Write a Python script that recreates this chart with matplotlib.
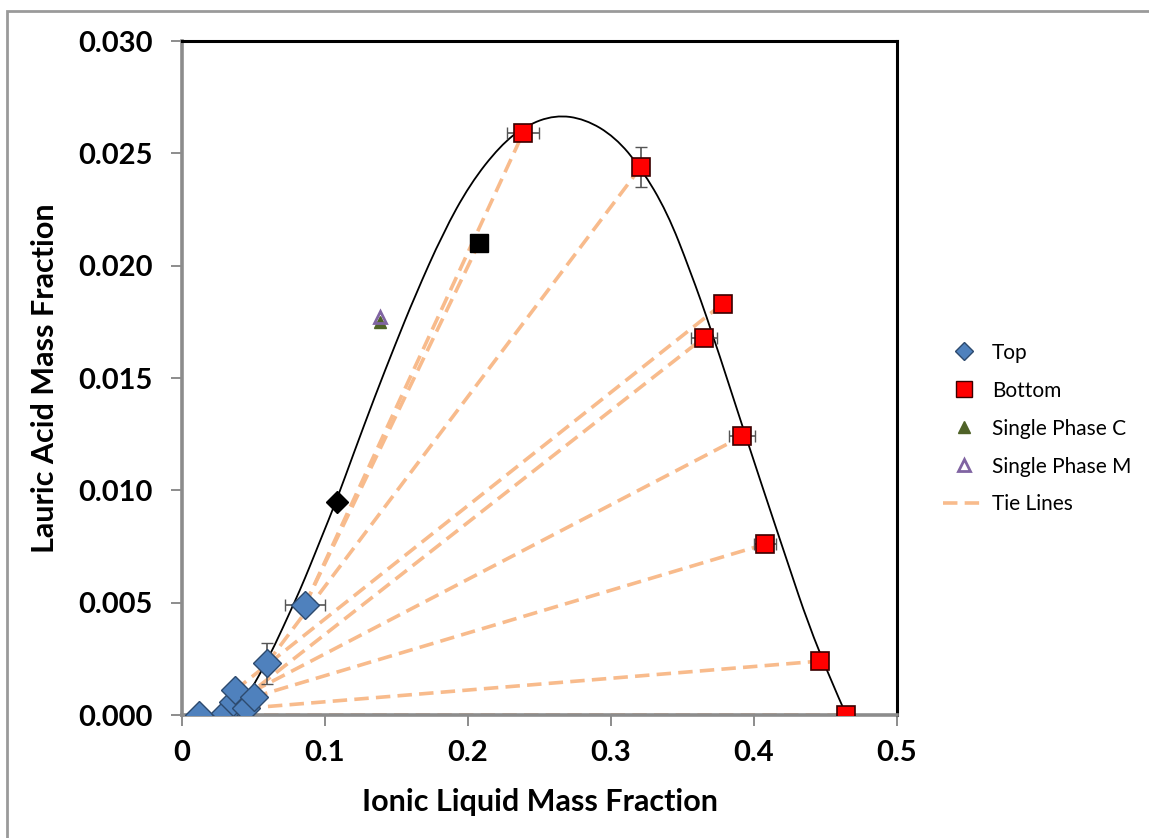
import numpy as np
import matplotlib
matplotlib.use("Agg")
import matplotlib.pyplot as plt
from matplotlib.lines import Line2D
from matplotlib.patches import Rectangle, PathPatch
from matplotlib.path import Path

plt.rcParams['font.family'] = ['Lato', 'DejaVu Sans']

# === DATA ===
# top phase (blue diamonds)
top_x = [0.012, 0.030, 0.036, 0.037, 0.045, 0.050, 0.0594, 0.086]
top_y = [0.0000, 0.0001, 0.0006, 0.0011, 0.0003, 0.0008, 0.0023, 0.0049]
top_xerr = [0, 0, 0, 0, 0, 0, 0, 0.0137]
top_yerr = [0, 0, 0, 0, 0, 0, 0.0009, 0]

# bottom phase (red squares)
bot_x = [0.4643, 0.4462, 0.4077, 0.3916, 0.3650, 0.3780, 0.3210, 0.2385]
bot_y = [0.0000, 0.0024, 0.0076, 0.0124, 0.0168, 0.0183, 0.0244, 0.0259]
bot_xerr = [0, 0, 0.0077, 0.009, 0.009, 0, 0, 0.011]
bot_yerr = [0, 0, 0, 0, 0, 0, 0.0009, 0.0002]

# tie lines: index of top point for each bottom point
tie_top = [0, 4, 5, 2, 1, 3, 6, 7]

# overall mixture / cloud point (black)
mix_x = [0.2077]
mix_y = [0.0210]
cloud_x = [0.1084]
cloud_y = [0.00948]

# single phase points
spc_x = [0.1385]
spc_y = [0.0175]
spm_x = [0.1385]
spm_y = [0.0177]

# binodal curve
bin_x = [0.0392, 0.0476, 0.0545, 0.0650, 0.0755, 0.0825, 0.0895, 0.0965, 0.1084,
         0.1196, 0.1350, 0.1490, 0.1629, 0.1825, 0.2014, 0.2224, 0.2399, 0.2608,
         0.2818, 0.3028, 0.3210, 0.3392, 0.3552, 0.3706, 0.3923, 0.4182, 0.4441,
         0.4643]
bin_y = [0.00036, 0.00107, 0.00182, 0.00312, 0.00458, 0.00556, 0.00663, 0.00774, 0.00961,
         0.01157, 0.01420, 0.01647, 0.01865, 0.02145, 0.02363, 0.02533, 0.02622, 0.02671,
         0.02653, 0.02573, 0.02435, 0.02239, 0.01981, 0.01705, 0.01277, 0.00779, 0.00289,
         0.00004]

x_ticks = [0, 0.1, 0.2, 0.3, 0.4, 0.5]
x_labels = ['0', '0.1', '0.2', '0.3', '0.4', '0.5']
y_ticks = [0.000, 0.005, 0.010, 0.015, 0.020, 0.025, 0.030]

# === PLOT ===
fig = plt.figure(figsize=(11.49, 8.38), dpi=100)
ax = fig.add_axes([182 / 1149, 1 - 715 / 838, 715 / 1149, 674 / 838])

# figure border (left + top visible)
fig.patches.append(Rectangle((7 / 1149, -0.1), 1.2, 1 - 11 / 838 + 0.1,
                             transform=fig.transFigure, fill=False,
                             edgecolor='#9a9a9a', lw=2.0, zorder=0))

tie_col = '#F8BB8C'
for i, t in enumerate(tie_top):
    ax.plot([top_x[t], bot_x[i]], [top_y[t], bot_y[i]], ls=(0, (4, 2)),
            color=tie_col, lw=2.6, zorder=2)
# extra tie line through mixture point
ax.plot([top_x[7], mix_x[0]], [top_y[7], mix_y[0]], ls=(0, (4, 2)),
        color=tie_col, lw=2.6, zorder=2)
ax.plot([0, 0.5], [0, 0], ls=(0, (2, 5)), color='#7a7a7a', lw=1.4, zorder=2.5)

# smooth binodal: quadratic segments through midpoints
pts = list(zip(bin_x, bin_y))
verts = [pts[0]]
codes = [Path.MOVETO]
for k in range(1, len(pts) - 1):
    mid = ((pts[k][0] + pts[k + 1][0]) / 2, (pts[k][1] + pts[k + 1][1]) / 2)
    if k == len(pts) - 2:
        mid = pts[-1]
    verts += [pts[k], mid]
    codes += [Path.CURVE3, Path.CURVE3]
ax.add_patch(PathPatch(Path(verts, codes), fill=False, edgecolor='black',
                       lw=1.3, zorder=3))

ax.errorbar(top_x, top_y, xerr=top_xerr, yerr=top_yerr, fmt='none',
            ecolor='#555555', elinewidth=1.2, capsize=4, zorder=3.5)
ax.errorbar(bot_x, bot_y, xerr=bot_xerr, yerr=bot_yerr, fmt='none',
            ecolor='#555555', elinewidth=1.2, capsize=4, zorder=3.5)

ax.plot(top_x, top_y, 'D', ms=14, mfc='#4F81BD', mec='#2D4A6E', mew=1.0, zorder=4)
ax.plot(bot_x, bot_y, 's', ms=12.5, mfc='#FF0000', mec='#3a0000', mew=1.2, zorder=4)
ax.plot(mix_x, mix_y, 's', ms=12.5, mfc='black', mec='black', zorder=4)
ax.plot(cloud_x, cloud_y, 'D', ms=11, mfc='black', mec='black', zorder=4)
ax.plot(spc_x, spc_y, '^', ms=8, mfc='#4F6228', mec='#4F6228', zorder=4)
ax.plot(spm_x, spm_y, '^', ms=8, mfc='none', mec='#8064A2', mew=2, zorder=4.5)

ax.set_xlim(0, 0.5)
ax.set_ylim(0, 0.030)
ax.set_xticks(x_ticks)
ax.set_xticklabels(x_labels)
ax.set_yticks(y_ticks)
ax.set_yticklabels(['%.3f' % v for v in y_ticks])

for s in ['left', 'bottom']:
    ax.spines[s].set_color('#8c8c8c')
    ax.spines[s].set_linewidth(2.6)
for s in ['top', 'right']:
    ax.spines[s].set_color('black')
    ax.spines[s].set_linewidth(2.2)

ax.tick_params(direction='out', length=8, width=1.4, color='#8c8c8c',
               labelsize=21)
ax.tick_params(axis='y', pad=13)
ax.tick_params(axis='x', pad=10)
for lab in ax.get_xticklabels() + ax.get_yticklabels():
    lab.set_fontweight('bold')

ax.set_xlabel('Ionic Liquid Mass Fraction', fontsize=22, fontweight='bold', labelpad=16)
ax.set_ylabel('Lauric Acid Mass Fraction', fontsize=22, fontweight='bold', labelpad=14)

handles = [
    Line2D([], [], ls='none', marker='D', ms=9, mfc='#4F81BD', mec='#2D4A6E'),
    Line2D([], [], ls='none', marker='s', ms=11, mfc='#FF0000', mec='#3a0000'),
    Line2D([], [], ls='none', marker='^', ms=8, mfc='#4F6228', mec='#4F6228'),
    Line2D([], [], ls='none', marker='^', ms=8, mfc='none', mec='#8064A2', mew=2),
    Line2D([], [], ls=(0, (4, 2)), color=tie_col, lw=2.6),
]
labels = ['Top', 'Bottom', 'Single Phase C', 'Single Phase M', 'Tie Lines']
fig.legend(handles, labels, loc='upper left', bbox_to_anchor=(924 / 1149, 1 - 324 / 838),
           frameon=False, fontsize=15, labelspacing=0.86, handlelength=2.0,
           handletextpad=0.35)

fig.savefig('out.png', dpi=100, facecolor='white')
